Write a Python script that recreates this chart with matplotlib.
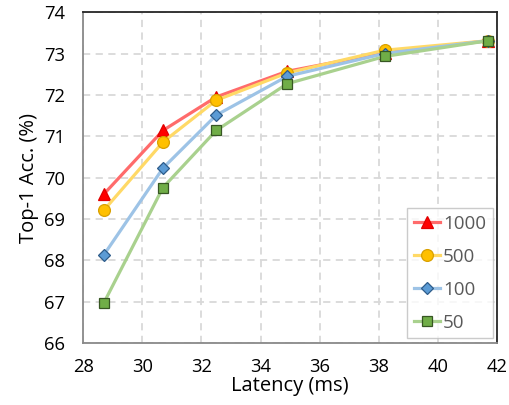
import matplotlib.pyplot as plt

# Data
latency = [28.7, 30.7, 32.5, 34.9, 38.2, 41.7]
acc_1000 = [69.60, 71.14, 71.95, 72.57, 73.02, 73.31]
acc_500 = [69.21, 70.86, 71.87, 72.53, 73.08, 73.31]
acc_100 = [68.13, 70.23, 71.51, 72.45, 73.00, 73.31]
acc_50 = [66.97, 69.76, 71.14, 72.27, 72.93, 73.31]
labels = ['1000', '500', '100', '50']

plt.rcParams['font.family'] = ['Open Sans', 'DejaVu Sans']

fig = plt.figure(figsize=(5.1, 4.05), dpi=100)
ax = fig.add_axes([0.163, 0.153, 0.812, 0.817])

series = [
    (acc_1000, '#FF6B6B', '^', '#FF0000', '#E00000', 9),
    (acc_500, '#FFD966', 'o', '#FFC000', '#D9A000', 8.5),
    (acc_100, '#9DC3E6', 'D', '#5B9BD5', '#2E5C8A', 6.5),
    (acc_50, '#A9D18E', 's', '#70AD47', '#375623', 7.5),
]
for (vals, lc, m, fc, ec, ms), lab in zip(series, labels):
    ax.plot(latency, vals, color=lc, lw=2.3, marker=m, markersize=ms,
            markerfacecolor=fc, markeredgecolor=ec, markeredgewidth=0.9,
            label=lab)

ax.set_xlim(28, 42)
ax.set_ylim(66, 74)
ax.set_xticks(range(28, 43, 2))
ax.set_yticks(range(66, 75, 1))
ax.grid(True, color='#D9D9D9', linestyle=(0, (4, 3)), lw=1.3)
ax.set_axisbelow(True)

for s in ['left', 'bottom']:
    ax.spines[s].set_color('#898989')
    ax.spines[s].set_linewidth(1.3)
for s in ['top', 'right']:
    ax.spines[s].set_color('#262626')
    ax.spines[s].set_linewidth(1.3)

ax.tick_params(length=0, labelsize=13.2, colors='#000000')
ax.tick_params(axis='x', pad=11)
ax.tick_params(axis='y', pad=13)
ax.set_xlabel('Latency (ms)', fontsize=14.5, labelpad=0)
ax.set_ylabel('Top-1 Acc. (%)', fontsize=14.5, labelpad=4)

leg = ax.legend(loc='lower right', fontsize=13.5, frameon=True, fancybox=False,
                edgecolor='#BFBFBF', handlelength=1.4, handletextpad=0.15,
                borderpad=0.35, labelspacing=0.8, borderaxespad=0.25,
                labelcolor='#595959')
leg.get_frame().set_linewidth(1.0)

plt.savefig('out.png', dpi=100)
